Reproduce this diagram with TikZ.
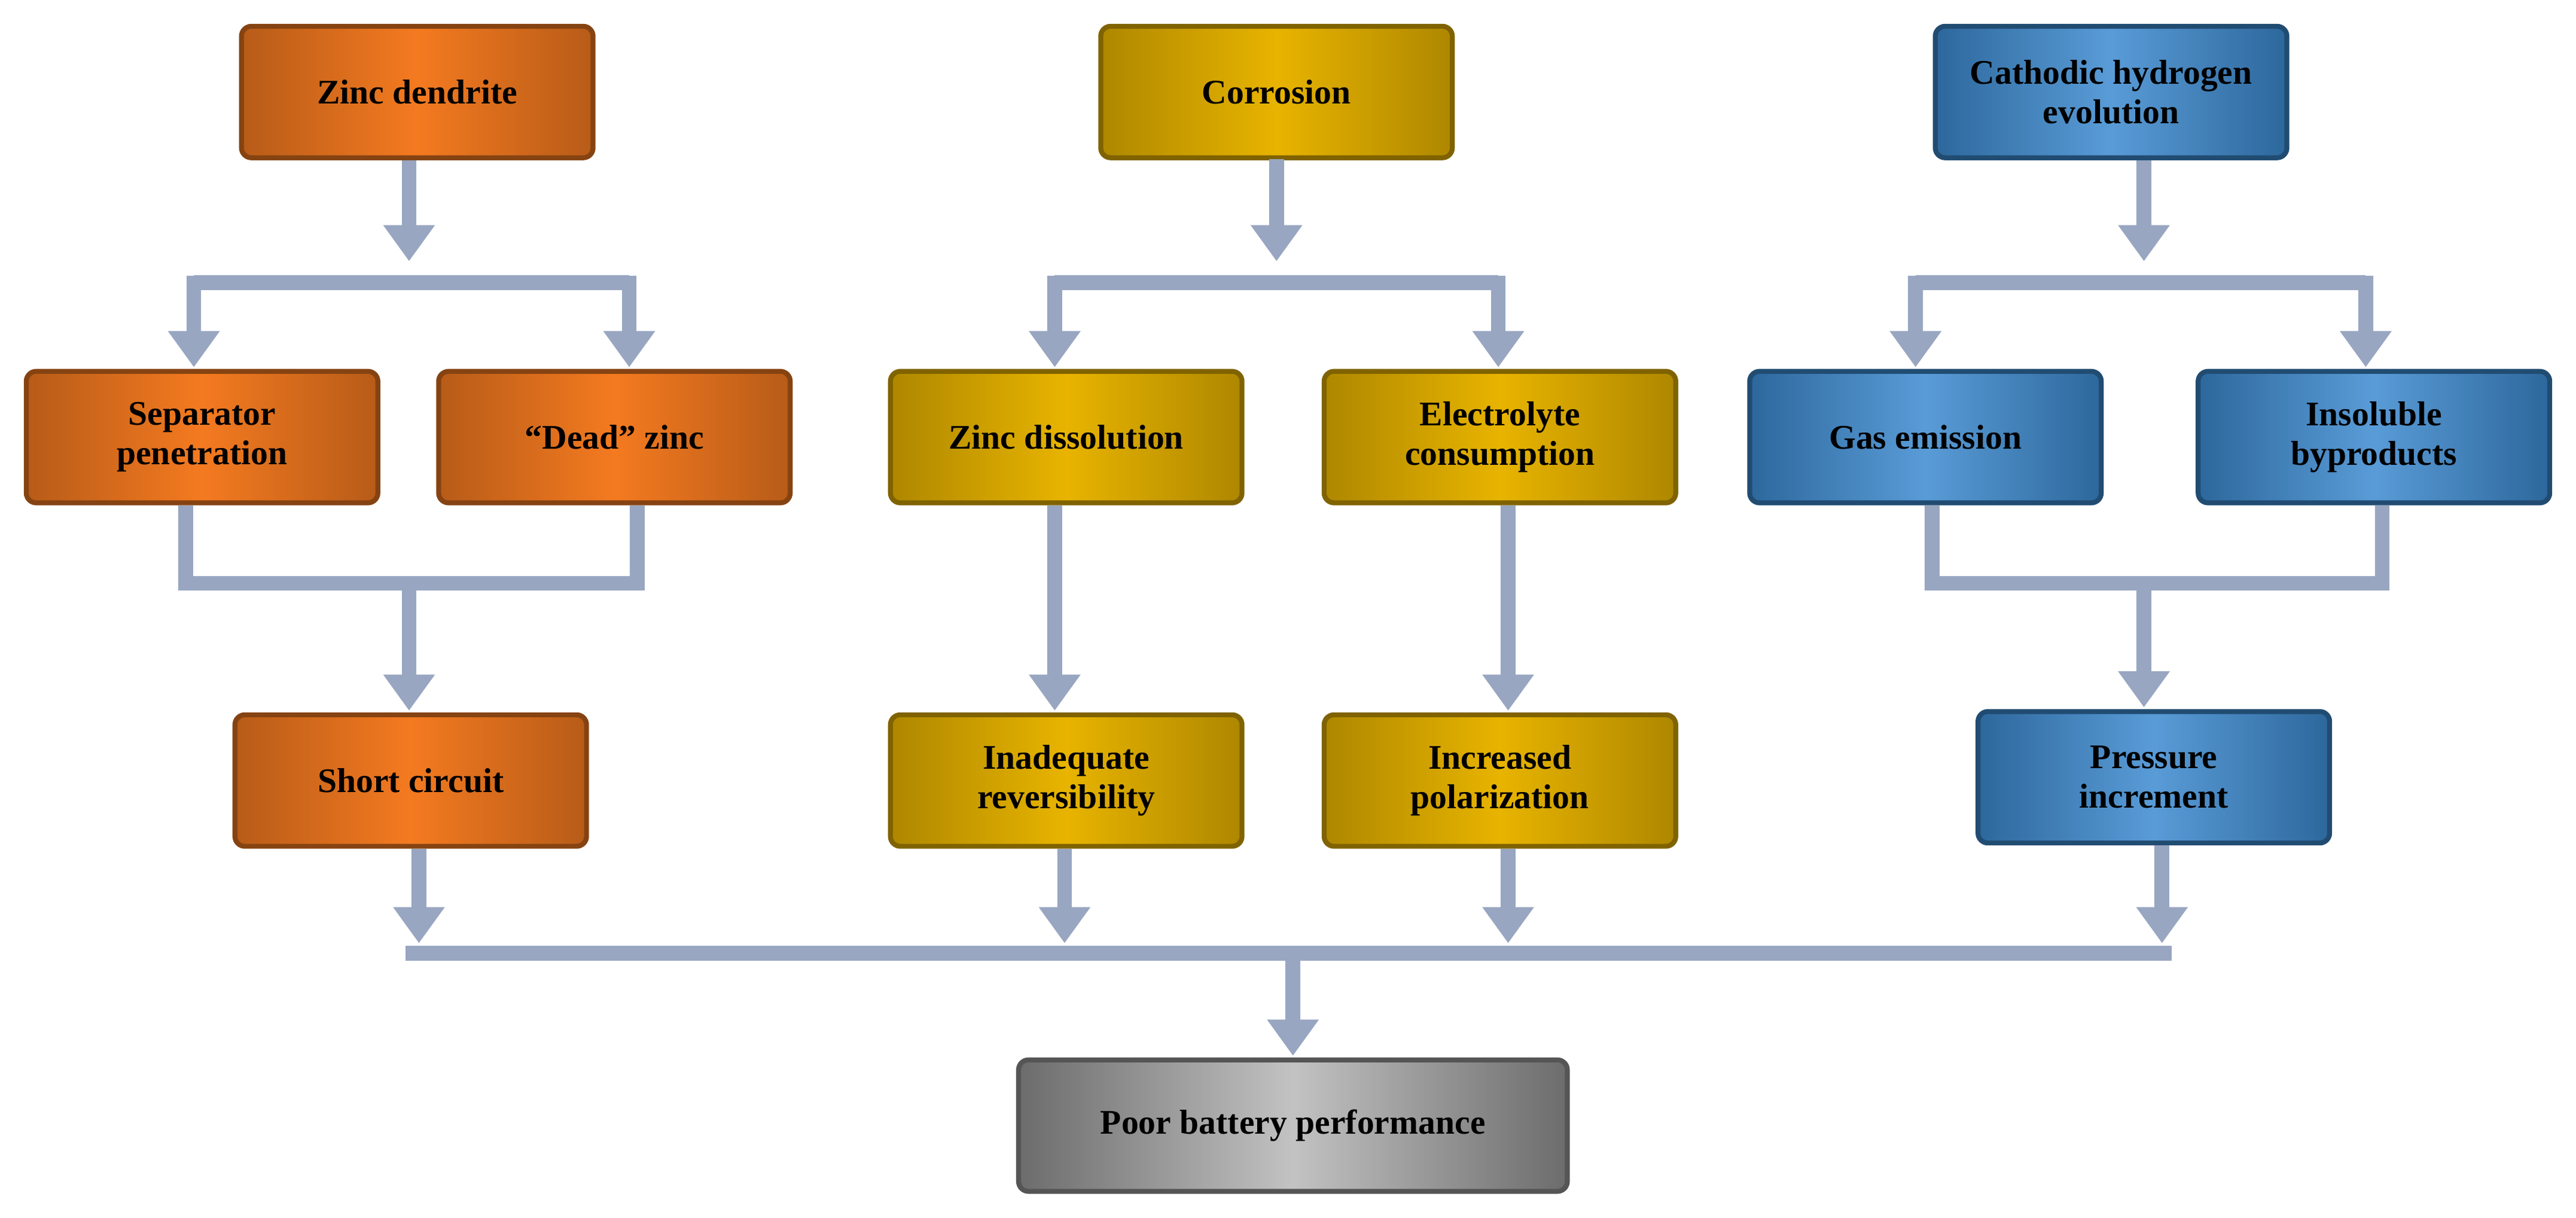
\documentclass[tikz,border=0pt]{standalone}
\usepackage{fontspec}
\setmainfont{Liberation Serif}
\usetikzlibrary{arrows.meta,positioning}
\definecolor{pipec}{HTML}{A9B8D6}
\definecolor{orng}{HTML}{F47A20}
\definecolor{gold}{HTML}{E8B400}
\definecolor{blu}{HTML}{3C8AD0}
\definecolor{gry}{HTML}{9A9A9A}
\tikzset{
  box/.style={rounded corners=6pt, minimum width=214pt, minimum height=80pt,
    align=center, font=\fontsize{21}{24}\selectfont\bfseries, line width=3pt},
  zn/.style={box, draw=orng!55!black, left color=orng!75!black, right color=orng!75!black, middle color=orng},
  co/.style={box, draw=gold!55!black, left color=gold!75!black, right color=gold!75!black, middle color=gold},
  hy/.style={box, draw=blu!55!black, left color=blu!75!black, right color=blu!75!black, middle color=blu!85!white},
  pf/.style={box, draw=gry!55!black, left color=gry!70!black, right color=gry!70!black, middle color=gry!60!white, minimum width=334pt},
  pipe/.style={draw=pipec!90!black, line width=9pt},
  flow/.style={pipe, -{Triangle[width=30pt,length=22pt]}, shorten >=1pt}
}
\begin{document}
\begin{tikzpicture}[x=1pt,y=-1pt]
\useasboundingbox (0,0) rectangle (1568,741);
% top row
\node[zn] (zd) at (254,56) {Zinc dendrite};
\node[co] (cor) at (777,56) {Corrosion};
\node[hy] (che) at (1285,56) {Cathodic hydrogen\\evolution};
% middle row
\node[zn] (sep) at (123,266) {Separator\\penetration};
\node[zn] (dz) at (374,266) {``Dead'' zinc};
\node[co] (zdis) at (649,266) {Zinc dissolution};
\node[co] (elc) at (913,266) {Electrolyte\\consumption};
\node[hy] (gas) at (1172,266) {Gas emission};
\node[hy] (ins) at (1445,266) {Insoluble\\byproducts};
% lower row
\node[zn] (sc) at (250,475) {Short circuit};
\node[co] (inr) at (649,475) {Inadequate\\reversibility};
\node[co] (inp) at (913,475) {Increased\\polarization};
\node[hy] (pin) at (1311,473) {Pressure\\increment};
\node[pf] (pbp) at (787,685) {Poor battery performance};
% junctions
\coordinate (j1) at (249,172);
\coordinate (j2) at (777,172);
\coordinate (j3) at (1305,172);
\coordinate (m1) at (249,355);
\coordinate (m3) at (1305,355);
\coordinate (b0) at (787,580);
% dendrite branch
\draw[flow] (zd.south -| j1) -- (j1 |- 150,160);
\draw[pipe] (118,172) -- (383,172);
\draw[flow] (118,168) -- (sep.north -| 118,0);
\draw[flow] (383,168) -- (dz.north -| 383,0);
\draw[pipe] (sep.south -| 113,0) -- (113,355) -- (388,355) -- (dz.south -| 388,0);
\draw[flow] (m1) -- (sc.north -| m1);
% corrosion branch
\draw[flow] (cor) ++(0,41) -- (777,160);
\draw[pipe] (642,172) -- (912,172);
\draw[flow] (642,168) -- (zdis.north -| 642,0);
\draw[flow] (912,168) -- (elc.north -| 912,0);
\draw[flow] (zdis.south -| 642,0) -- (inr.north -| 642,0);
\draw[flow] (elc.south -| 918,0) -- (inp.north -| 918,0);
% hydrogen branch
\draw[flow] (che.south -| j3) -- (1305,160);
\draw[pipe] (1166,172) -- (1440,172);
\draw[flow] (1166,168) -- (gas.north -| 1166,0);
\draw[flow] (1440,168) -- (ins.north -| 1440,0);
\draw[pipe] (gas.south -| 1176,0) -- (1176,355) -- (1450,355) -- (ins.south -| 1450,0);
\draw[flow] (m3) -- (pin.north -| m3);
% merge to performance
\draw[flow] (sc.south -| 255,0) -- (255,575);
\draw[flow] (inr.south -| 648,0) -- (648,575);
\draw[flow] (inp.south -| 918,0) -- (918,575);
\draw[flow] (pin.south -| 1316,0) -- (1316,575);
\draw[pipe] (247,580) -- (1322,580);
\draw[flow] (b0) -- (pbp.north);
\end{tikzpicture}
\end{document}
